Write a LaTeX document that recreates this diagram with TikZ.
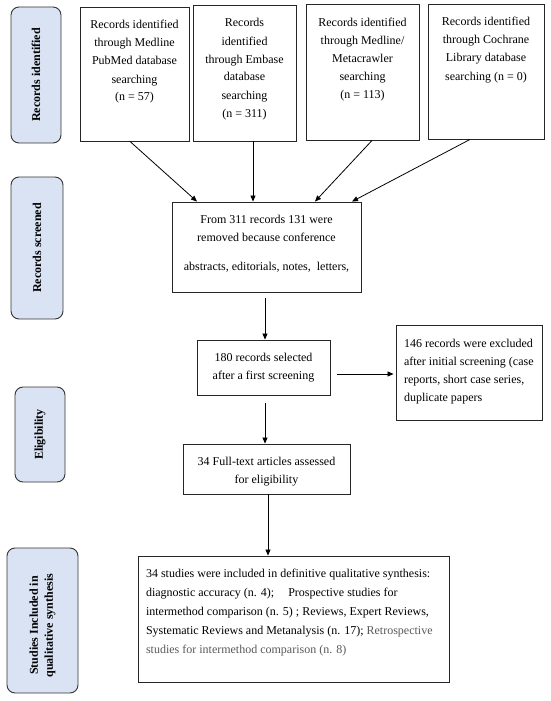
\documentclass[tikz,border=0pt]{standalone}
\usepackage{fontspec}
\setmainfont{Liberation Serif}
\usetikzlibrary{arrows.meta,calc}
\definecolor{lblue}{HTML}{DAE3F3}
\definecolor{retro}{HTML}{595959}
% #1 width, #2 height, #3 first baseline from top, #4 text, #5 format
\newcommand\bxtext[5]{\parbox[c][#2][t]{#1}{#5\rule{0pt}{#3}#4}}
\newcommand\ctr{\centering\fontsize{12}{18}\selectfont}
\tikzset{
  box/.style={draw=black!85, line width=0.9pt, inner sep=0pt, fill=white},
  side/.style={draw=black!80, line width=0.9pt, rounded corners=8pt, fill=lblue,
    rotate=90, inner sep=0pt, align=center,
    font=\fontsize{12}{15}\selectfont\bfseries},
  arr/.style={draw=black, line width=0.8pt, -{Triangle[length=6pt,width=5pt]}}
}
\begin{document}
\begin{tikzpicture}[x=1pt,y=-1pt]
\useasboundingbox (0,0) rectangle (550,701);
% side labels
\node[side, minimum width=136pt, minimum height=50pt] (L1) at (36,75) {Records identified};
\node[side, minimum width=142pt, minimum height=52pt] (L2) at (37,248) {Records screened};
\node[side, minimum width=95pt, minimum height=50pt] (L3) at (40,434.5) {Eligibility};
\node[side, minimum width=145pt, minimum height=71pt] (L4) at (42.5,620.5) {Studies Included in\kern10pt\\qualitative synthesis\kern10pt};
% top boxes
\node[box] (B1) at (134.5,74) {\bxtext{109pt}{134pt}{22pt}{Records identified\\through Medline\\PubMed database\\searching\\(n = 57)}{\ctr}};
\node[box] (B2) at (244.5,73) {\bxtext{103pt}{136pt}{22pt}{Records\\identified\\through Embase\\database\\searching\\(n = 311)}{\ctr}};
\node[box] (B3) at (362.5,72) {\bxtext{113pt}{136pt}{22pt}{Records identified\\through Medline/\\Metacrawler\\searching\\(n = 113)}{\ctr}};
\node[box] (B4) at (486,71.5) {\bxtext{116pt}{135pt}{22pt}{Records identified\\through Cochrane\\Library database\\searching (n = 0)}{\ctr}};
% screening
\node[box] (S) at (266.5,247) {\bxtext{189pt}{90pt}{21pt}{From 311 records 131 were\\removed because conference\\[11pt]abstracts, editorials, notes,\ \ letters,}{\ctr}};
\node[box] (Sel) at (263.5,367.5) {\bxtext{133pt}{55pt}{21pt}{180 records selected\\after a first screening}{\ctr}};
\node[box] (E) at (469,372.5) {\bxtext{146pt}{95pt}{22pt}{146 records were excluded\\after initial screening (case\\reports, short case series,\\duplicate papers}{\raggedright\leftskip=8pt\rightskip=0pt minus 20pt\fontsize{12}{18}\selectfont}};
\node[box] (F) at (266.5,469) {\bxtext{167pt}{50pt}{21pt}{34 Full-text articles assessed\\for eligibility}{\ctr}};
\node[box] (T) at (293.5,619) {\bxtext{311pt}{126pt}{21pt}{34 studies were included in definitive qualitative synthesis:\\diagnostic accuracy (n. 4);\hspace{14pt}Prospective studies for\\intermethod comparison (n. 5) ; Reviews, Expert Reviews,\\Systematic Reviews and Metanalysis (n. 17); \textcolor{retro}{Retrospective}\\\textcolor{retro}{studies for intermethod comparison (n. 8)}}{\raggedright\leftskip=8pt\rightskip=0pt minus 20pt\fontsize{12}{19.2}\selectfont}};
% connectors
\draw[arr] ([xshift=-4.5pt]B1.south) -- ([xshift=-69.5pt]S.north);
\draw[arr] ([xshift=8.5pt]B2.south) -- ([xshift=-13.5pt]S.north);
\draw[arr] ([xshift=9.5pt]B3.south) -- ([xshift=48.5pt]S.north);
\draw[arr] ([xshift=-16pt]B4.south) -- ([xshift=85.5pt]S.north);
\draw[arr, shorten <=6pt] ([xshift=1.5pt]Sel.north |- S.south) -- ([xshift=1.5pt]Sel.north);
\coordinate (a1) at ([yshift=-6.5pt]Sel.east);
\draw[arr, shorten <=7pt, shorten >=2pt] (a1) -- (a1 -| E.west);
\draw[arr, shorten <=8pt] ([xshift=1.5pt]Sel.south) -- ([xshift=1.5pt]Sel.south |- F.north);
\draw[arr] ([xshift=1.5pt]F.south) -- ([xshift=1.5pt]F.south |- T.north);
\end{tikzpicture}
\end{document}
